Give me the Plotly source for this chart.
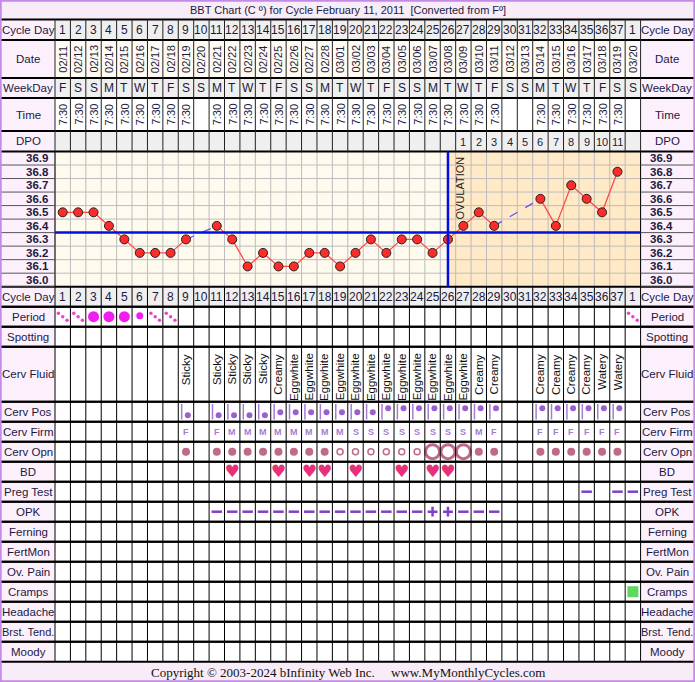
import plotly.graph_objects as go

# ---- data ----
cycle_days = list(range(1, 38)) + [1]
dates = ["02/11", "02/12", "02/13", "02/14", "02/15", "02/16", "02/17", "02/18", "02/19", "02/20",
         "02/21", "02/22", "02/23", "02/24", "02/25", "02/26", "02/27", "02/28", "03/01", "03/02",
         "03/03", "03/04", "03/05", "03/06", "03/07", "03/08", "03/09", "03/10", "03/11", "03/12",
         "03/13", "03/14", "03/15", "03/16", "03/17", "03/18", "03/19", "03/20"]
weekdays = list("FSSMTWTFSSMTWTFSSMTWTFSSMTWTFSSMTWTFSS")
times = ["7:30"] * 9 + [""] + ["7:30"] * 19 + ["", ""] + ["7:30"] * 6 + [""]
dpo = [""] * 26 + [str(i) for i in range(1, 12)] + [""]
temps = [36.5, 36.5, 36.5, 36.4, 36.3, 36.2, 36.2, 36.2, 36.3, None,
         36.4, 36.3, 36.1, 36.2, 36.1, 36.1, 36.2, 36.2, 36.1, 36.2,
         36.3, 36.2, 36.3, 36.3, 36.2, 36.3, 36.4, 36.5, 36.4, None,
         None, 36.6, 36.4, 36.7, 36.6, 36.5, 36.8, None]
temp_ticks = [36.9, 36.8, 36.7, 36.6, 36.5, 36.4, 36.3, 36.2, 36.1, 36.0]
coverline = 36.35
ovulation_day = 26

period = {1: "light", 2: "light", 3: "heavy", 4: "heavy", 5: "heavy", 6: "medium",
          7: "light", 8: "light", 38: "light"}
cerv_fluid = {9: "Sticky", 11: "Sticky", 12: "Sticky", 13: "Sticky", 14: "Sticky", 15: "Creamy",
              16: "Eggwhite", 17: "Eggwhite", 18: "Eggwhite", 19: "Eggwhite", 20: "Eggwhite",
              21: "Eggwhite", 22: "Eggwhite", 23: "Eggwhite", 24: "Eggwhite", 25: "Eggwhite",
              26: "Eggwhite", 27: "Eggwhite", 28: "Creamy", 29: "Creamy", 32: "Creamy",
              33: "Creamy", 34: "Creamy", 35: "Creamy", 36: "Watery", 37: "Watery"}
cerv_pos = {9: "L", 11: "L", 12: "L", 13: "L", 14: "L", 15: "M", 16: "M", 17: "M", 18: "M",
            19: "M", 20: "M", 21: "M", 22: "H", 23: "H", 24: "H", 25: "H", 26: "H", 27: "H",
            28: "H", 29: "H", 32: "H", 33: "H", 34: "H", 35: "H", 36: "H", 37: "H"}
cerv_firm = {9: "F", 11: "F", 12: "M", 13: "M", 14: "M", 15: "M", 16: "M", 17: "M", 18: "M",
             19: "M", 20: "S", 21: "S", 22: "S", 23: "S", 24: "S", 25: "S", 26: "S", 27: "S",
             28: "M", 29: "F", 32: "F", 33: "F", 34: "F", 35: "F", 36: "F", 37: "F"}
cerv_opn = {9: "closed", 11: "closed", 12: "closed", 13: "closed", 14: "closed", 15: "closed",
            16: "closed", 17: "closed", 18: "closed", 19: "open", 20: "open", 21: "open",
            22: "open", 23: "open", 24: "open", 25: "wide", 26: "wide", 27: "wide",
            28: "closed", 29: "closed", 32: "closed", 33: "closed", 34: "closed", 35: "closed",
            36: "closed", 37: "closed"}
bd_days = [12, 15, 17, 18, 20, 23, 25, 26]
preg_test = {35: "-", 37: "-", 38: "-"}
opk = {d: "-" for d in range(11, 30)}
opk[25] = "+"
opk[26] = "+"
cramps_days = [38]

# ---- layout geometry (pixels) ----
W, H = 695, 682
X0, COLW = 55, 15.41
NCOL = len(cycle_days)
XR = X0 + NCOL * COLW
TEMP_TOP, TEMP_BOT = 151.5, 286.7
rows_top = [("Cycle Day", 19.5, 40, "#efefef"), ("Date", 40, 78, "#fffaf2"),
            ("WeekDay", 78, 98, "#efefef"), ("Time", 98, 131, "#ffffff"),
            ("DPO", 131, 151.5, "#efefef")]
lower_names = ["Cycle Day", "Period", "Spotting", "Cerv Fluid", "Cerv Pos", "Cerv Firm",
               "Cerv Opn", "BD", "Preg Test", "OPK", "Ferning", "FertMon", "Ov. Pain",
               "Cramps", "Headache", "Brst. Tend.", "Moody"]
rows_low = []
y = TEMP_BOT
for n in lower_names:
    h = 55 if n == "Cerv Fluid" else 20
    rows_low.append((n, y, y + h, "#efefef" if n == "Cycle Day" else "#ffffff"))
    y += h
BOTTOM = y
rowc = {n: (a + b) / 2 for n, a, b, _ in rows_low}
rowt = {n: a for n, a, b, _ in rows_low}

def px2x(p):
    return (p - X0) / COLW + 0.5

NAVY = "#1a1a40"
LABEL_BG = "#fdf0fd"
FONT = "Liberation Sans, Arial, sans-serif"

shapes = []
ann = []

def rect(x0, y0, x1, y1, fill, yref="y"):
    shapes.append(dict(type="rect", xref="x", yref=yref, x0=x0, x1=x1, y0=y0, y1=y1,
                       fillcolor=fill, line=dict(color=fill, width=0), layer="below"))

def hline(x0, x1, yy, color, lw, yref="y", layer="above"):
    shapes.append(dict(type="line", xref="x", yref=yref, x0=x0, x1=x1, y0=yy, y1=yy,
                       line=dict(color=color, width=lw), layer=layer))

def vline(xx, y0, y1, color, lw, yref="y", layer="above"):
    shapes.append(dict(type="line", xref="x", yref=yref, x0=xx, x1=xx, y0=y0, y1=y1,
                       line=dict(color=color, width=lw), layer=layer))

def text(xx, yy, s, size=12, color=NAVY, angle=0, family=FONT, yref="y", xa="center", ya="middle", bold=False):
    if bold:
        s = "<b>" + s + "</b>"
    ann.append(dict(x=xx, y=yy, xref="x", yref=yref, text=s, showarrow=False, textangle=angle,
                    xanchor=xa, yanchor=ya, font=dict(size=size, color=color, family=family)))

xl0, xl1 = px2x(1), px2x(X0)
xr0, xr1 = px2x(XR), px2x(W - 1)
xg0, xg1 = px2x(X0), px2x(XR)

# title and footer bars
rect(px2x(0), 0, px2x(W), 19.5, "#f8ecf8")
rect(px2x(0), BOTTOM, px2x(W), H, "#f8ecf8")
text(px2x(W / 2), 10, "BBT Chart (C º) for Cycle February 11, 2011  [Converted from Fº]", size=11)
text(px2x(W / 2), (BOTTOM + H) / 2 + 1,
     "Copyright © 2003-2024 bInfinity Web Inc.     www.MyMonthlyCycles.com",
     size=13, color="#111111", family="Liberation Serif, Times New Roman, serif")

# table rows
for n, a, b, bg in rows_top + rows_low:
    rect(xl0, a, xl1, b, LABEL_BG)
    rect(xr0, a, xr1, b, LABEL_BG)
    rect(xg0, a, xg1, b, bg)
    for xa_, xb_ in ((xl0, xl1), (xr0, xr1)):
        text((xa_ + xb_) / 2, (a + b) / 2, n, size=11.5 if n != "Brst. Tend." else 11)
    hline(xl0, xr1, b, "#000000", 2)
    hline(xl0, xr1, a, "#000000", 2)

# temperature area backgrounds
rect(xl0, TEMP_TOP, xl1, TEMP_BOT, LABEL_BG)
rect(xr0, TEMP_TOP, xr1, TEMP_BOT, LABEL_BG)
rect(xg0, TEMP_TOP, ovulation_day, TEMP_BOT, "#fffaee")
rect(ovulation_day, TEMP_TOP, xg1, TEMP_BOT, "#ffe9c6")

# column lines
for i in range(NCOL + 1):
    xx = i + 0.5
    vline(xx, 19.5, TEMP_TOP, "#222222", 1)
    vline(xx, TEMP_TOP, TEMP_BOT, "#bdbdbd", 1, layer="below")
    vline(xx, TEMP_BOT, BOTTOM, "#000000", 1)
vline(xg0, TEMP_TOP, TEMP_BOT, "#000000", 1)
vline(xg1, TEMP_TOP, TEMP_BOT, "#000000", 1)

# temperature labels and grid lines
for t in temp_ticks:
    text((xl0 + xl1) / 2 + 0.6, t, f"{t:.1f}", size=11.5, yref="y2", bold=True)
    text((xr0 + xr1) / 2 - 0.4, t, f"{t:.1f}", size=11.5, yref="y2", bold=True)
    hline(xg0, xg1, t - 0.05, "#bdbdbd", 1, yref="y2", layer="below")
    hline(xl0, xl1, t - 0.05, "#555555", 1, yref="y2")
    hline(xr0, xr1, t - 0.05, "#555555", 1, yref="y2")

# outer border
shapes.append(dict(type="rect", xref="paper", yref="paper", x0=0.001, x1=0.999, y0=0.001, y1=0.999,
                   line=dict(color="#c38ae8", width=2), layer="above"))

# header row contents
for i, d in enumerate(cycle_days):
    x = i + 1
    text(x, 30, str(d), size=12)
    text(x, rowc["Cycle Day"], str(d), size=12)
    text(x, 59, dates[i], size=11, angle=-90)
    text(x, 88, weekdays[i], size=12)
    if times[i]:
        text(x, 114.5, times[i], size=11, angle=-90)
    if dpo[i]:
        text(x, 141.5, dpo[i], size=11)
    if i + 1 in cerv_fluid:
        text(x, rowt["Cerv Fluid"] + 5, cerv_fluid[i + 1], size=11.5, angle=-90, ya="top", color="#111111")
    if i + 1 in cerv_firm:
        text(x, rowc["Cerv Firm"], cerv_firm[i + 1], size=9, color="#a77ad6", bold=True)

fig = go.Figure()
xs = list(range(1, NCOL + 1))

# coverline + ovulation
hline(xg0, xg1, coverline, "#0010e0", 2.5, yref="y2")
vline(ovulation_day, TEMP_TOP, TEMP_BOT, "#0010e0", 2.5)
text(ovulation_day + 0.75, TEMP_TOP + 3, "OVULATION", size=11, angle=-90, ya="top", color="#222222")

# missing-day bridges
valid = [i for i, t in enumerate(temps) if t is not None]
for a, b in zip(valid[:-1], valid[1:]):
    if b - a > 1:
        fig.add_trace(go.Scatter(x=[xs[a], xs[b]], y=[temps[a], temps[b]], yaxis="y2", mode="lines",
                                 line=dict(color="#5a5af0", width=1.3, dash="dash"),
                                 hoverinfo="skip", showlegend=False))
fig.add_trace(go.Scatter(x=xs, y=temps, yaxis="y2", mode="lines+markers", connectgaps=False,
                         line=dict(color="#ff4a4a", width=1.3),
                         marker=dict(size=9, color="#ff2b2b", line=dict(color="#222222", width=1)),
                         showlegend=False))

# period
heavy = [d for d, v in period.items() if v == "heavy"]
medium = [d for d, v in period.items() if v == "medium"]
light = [d for d, v in period.items() if v == "light"]
fig.add_trace(go.Scatter(x=heavy, y=[rowc["Period"]] * len(heavy), mode="markers",
                         marker=dict(size=11, color="#f01cf0"), showlegend=False))
fig.add_trace(go.Scatter(x=medium, y=[rowc["Period"] - 1] * len(medium), mode="markers",
                         marker=dict(size=7, color="#f01cf0"), showlegend=False))
for dx, dy in ((-0.28, -3.5), (0.0, 0.0), (0.28, 3.5)):
    fig.add_trace(go.Scatter(x=[d + dx for d in light], y=[rowc["Period"] + dy] * len(light),
                             mode="markers", marker=dict(size=3.5, color="#f040d0"), showlegend=False))

# cervix position: bar + dot
pos_off = {"L": 3.5, "M": 0.5, "H": -3.5}
cp_days = list(cerv_pos)
fig.add_trace(go.Scatter(x=[d - 0.28 for d in cp_days], y=[rowc["Cerv Pos"]] * len(cp_days),
                         mode="markers", marker=dict(symbol="line-ns", size=11, color="#a77ad6",
                                                     line=dict(color="#a77ad6", width=1.5)),
                         showlegend=False))
fig.add_trace(go.Scatter(x=[d + 0.12 for d in cp_days],
                         y=[rowc["Cerv Pos"] + pos_off[cerv_pos[d]] for d in cp_days],
                         mode="markers", marker=dict(size=6, color="#9a60d0"), showlegend=False))

# cervix opening
for kind, size, filled in (("closed", 8, True), ("open", 8, False), ("wide", 16, False)):
    ds = [d for d, v in cerv_opn.items() if v == kind]
    fig.add_trace(go.Scatter(x=ds, y=[rowc["Cerv Opn"]] * len(ds), mode="markers",
                             marker=dict(size=size if filled else size - 2,
                                         color="#c06a8a" if filled else "rgba(0,0,0,0)",
                                         line=dict(color="#c06a8a", width=0 if filled else (1.5 if size < 10 else 3))),
                             showlegend=False))

# BD hearts
fig.add_trace(go.Scatter(x=bd_days, y=[rowc["BD"] + 1] * len(bd_days), mode="text", text=["♥"] * len(bd_days),
                         textfont=dict(size=17, color="#e8307a", family="DejaVu Sans"), showlegend=False))

# preg test and OPK
for row, data in (("Preg Test", preg_test), ("OPK", opk)):
    neg = [d for d, v in data.items() if v == "-"]
    pos = [d for d, v in data.items() if v == "+"]
    fig.add_trace(go.Scatter(x=neg, y=[rowc[row]] * len(neg), mode="markers",
                             marker=dict(symbol="line-ew", size=7.5, color="#8040c8",
                                         line=dict(color="#8040c8", width=2.5)),
                             showlegend=False))
    if pos:
        fig.add_trace(go.Scatter(x=pos, y=[rowc[row]] * len(pos), mode="markers",
                                 marker=dict(symbol="cross-thin", size=7, color="#8040c8",
                                             line=dict(color="#8040c8", width=2.5)),
                                 showlegend=False))

# cramps
fig.add_trace(go.Scatter(x=cramps_days, y=[rowc["Cramps"]] * len(cramps_days), mode="markers",
                         marker=dict(symbol="square", size=11, color="#5ed85e"), showlegend=False))

fig.update_layout(
    width=W, height=H, margin=dict(l=0, r=0, t=0, b=0),
    paper_bgcolor="white", plot_bgcolor="rgba(0,0,0,0)",
    shapes=shapes, annotations=ann, showlegend=False,
    xaxis=dict(range=[px2x(0), px2x(W)], visible=False, fixedrange=True),
    yaxis=dict(range=[H, 0], domain=[0, 1], visible=False, fixedrange=True),
    yaxis2=dict(range=[35.95, 36.95], domain=[1 - TEMP_BOT / H, 1 - TEMP_TOP / H],
                anchor="x", visible=False, fixedrange=True),
)
fig.write_html("out.html", config={"displayModeBar": False},
               post_script="document.body.style.margin='0';")
